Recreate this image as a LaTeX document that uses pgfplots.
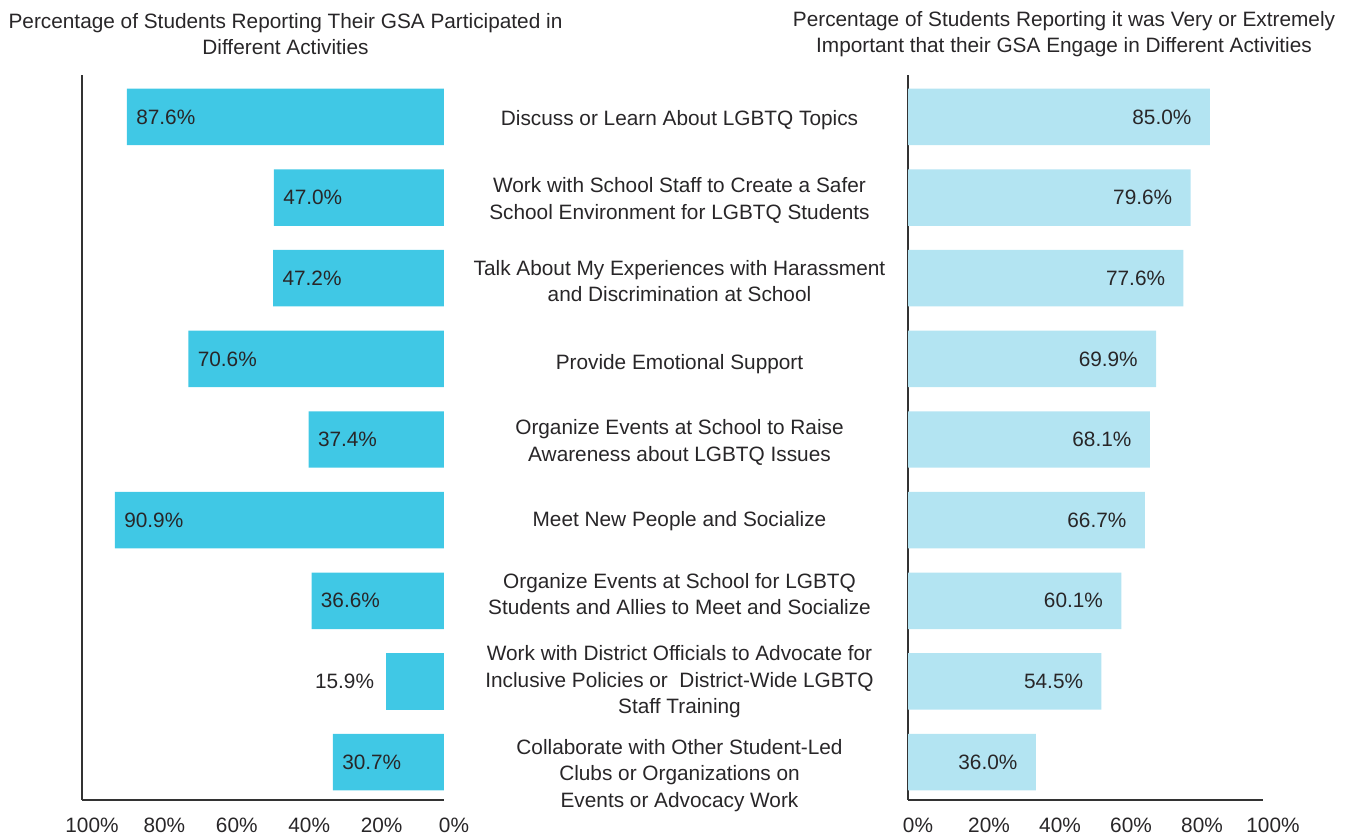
\documentclass[border=0pt]{standalone}
\usepackage{pgfplots}
\pgfplotsset{compat=1.18}
\usepackage{fontspec}
\setmainfont{Liberation Sans}
\definecolor{barL}{RGB}{64,200,229}
\definecolor{barR}{RGB}{179,228,242}
\definecolor{txt}{RGB}{40,38,40}
\tikzset{lbl/.style={font=\fontsize{10.4}{12}\selectfont, text=txt, inner sep=0pt}}
\begin{document}
\begin{tikzpicture}
\useasboundingbox (0,0) rectangle (675pt,417.5pt);
\pgfplotsset{
  common/.style={
    scale only axis, height=362.5pt,
    ymin=-0.47, ymax=8.52, xmin=0, xmax=100,
    axis line style={draw=black!80, line width=0.65pt, -},
    major tick length=0pt,
    xtick={0,20,...,100},
    xticklabel={\pgfmathprintnumber{\tick}\%},
    /pgf/number format/assume math mode=true,
    xticklabel style={font=\fontsize{10.4}{12}\selectfont, text=txt, anchor=center, yshift=-12.5pt, xshift=5pt},
    title style={font=\fontsize{10.4}{13.25}\selectfont, text=txt, align=center, at={(0.5,1)}, anchor=center, yshift=14.5pt},
    axis x line*=bottom,
    clip=false,
  },
}
% Left axis: participated
\begin{axis}[common,
  at={(41pt,17.5pt)}, anchor=south west, width=181pt,
  x dir=reverse, axis y line*=left, ytick=\empty,
  title={Percentage of Students Reporting Their GSA Participated in\\Different Activities},
  title style={xshift=11.25pt},
]
\addplot[xbar, bar shift=0pt, bar width=0.7, fill=barL, draw=none,
  nodes near coords={\pgfmathprintnumber[fixed,fixed zerofill,precision=1]{\pgfplotspointmeta}\%},
  nodes near coords style={lbl, anchor=west, xshift=4.5pt}]
  coordinates {(87.6,8) (47.0,7) (47.2,6) (70.6,5) (37.4,4) (90.9,3) (36.6,2) (30.7,0)};
\addplot[xbar, bar shift=0pt, bar width=0.7, fill=barL, draw=none,
  nodes near coords={\pgfmathprintnumber[fixed,fixed zerofill,precision=1]{\pgfplotspointmeta}\%},
  nodes near coords style={lbl, anchor=east, xshift=-6pt}]
  coordinates {(15.9,1)};
\end{axis}
% Right axis: important
\begin{axis}[common,
  at={(454pt,17.5pt)}, anchor=south west, width=177.5pt,
  axis y line*=left,
  title={Percentage of Students Reporting it was Very or Extremely\\Important that their GSA Engage in Different Activities},
  title style={xshift=-10.75pt},
  ytick={-0.13,1.03,2.12,3.03,4.0,4.97,6.0,7.0,8},
  yticklabels={
    {Collaborate with Other Student-Led\\Clubs or Organizations on\\Events or Advocacy Work},
    {Work with District Officials to Advocate for\\Inclusive Policies or\ \ District-Wide LGBTQ\\Staff Training},
    {Organize Events at School for LGBTQ\\Students and Allies to Meet and Socialize},
    {Meet New People and Socialize},
    {Organize Events at School to Raise\\Awareness about LGBTQ Issues},
    {Provide Emotional Support},
    {Talk About My Experiences with Harassment\\and Discrimination at School},
    {Work with School Staff to Create a Safer\\School Environment for LGBTQ Students},
    {Discuss or Learn About LGBTQ Topics}},
  yticklabel style={font=\fontsize{10.4}{13.25}\selectfont, text=txt, align=center, anchor=center, xshift=-114.25pt, yshift=-1.5pt},
]
\addplot[xbar, bar shift=0pt, bar width=0.7, fill=barR, draw=none,
  nodes near coords={\pgfmathprintnumber[fixed,fixed zerofill,precision=1]{\pgfplotspointmeta}\%},
  nodes near coords style={lbl, anchor=east, xshift=-9pt}]
  coordinates {(85.0,8) (79.6,7) (77.6,6) (69.9,5) (68.1,4) (66.7,3) (60.1,2) (54.5,1) (36.0,0)};
\end{axis}
\end{tikzpicture}
\end{document}
